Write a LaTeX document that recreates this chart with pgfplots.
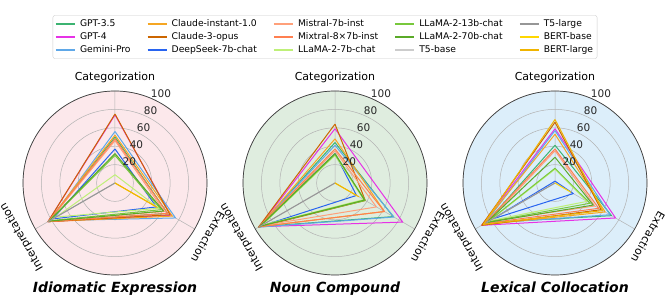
\documentclass[border=0pt]{standalone}
\usepackage{fontspec}
\setmainfont{DejaVu Sans}
\usepackage{pgfplots}
\pgfplotsset{compat=1.18}
\usepgfplotslibrary{polar}

\definecolor{cA}{RGB}{60,179,113}
\definecolor{cB}{RGB}{230,50,230}
\definecolor{cC}{RGB}{95,168,232}
\definecolor{cD}{RGB}{245,166,35}
\definecolor{cE}{RGB}{204,102,0}
\definecolor{cF}{RGB}{40,100,240}
\definecolor{cG}{RGB}{255,160,122}
\definecolor{cH}{RGB}{255,127,80}
\definecolor{cI}{RGB}{190,240,120}
\definecolor{cJ}{RGB}{120,200,60}
\definecolor{cK}{RGB}{90,170,40}
\definecolor{cL}{RGB}{204,204,204}
\definecolor{cM}{RGB}{150,150,150}
\definecolor{cN}{RGB}{255,215,0}
\definecolor{cO}{RGB}{240,180,0}
\definecolor{bgA}{RGB}{252,232,235}
\definecolor{bgB}{RGB}{223,237,223}
\definecolor{bgC}{RGB}{220,238,250}

\newcommand{\tri}[4]{\addplot[#1] coordinates {(90,#2) (330,#3) (210,#4) (90,#2)};}
\newcommand{\radarlabels}{%
  \node[font=\fontsize{11}{13}\selectfont, anchor=center] at (axis cs:90,115) {Categorization};
  \node[font=\fontsize{11}{13}\selectfont, anchor=center, rotate=-120] at (axis cs:330,117) {Extraction};
  \node[font=\fontsize{11}{13}\selectfont, anchor=center, rotate=120] at (axis cs:210,117) {Interpretation};
  \node[font=\fontsize{10.5}{12}\selectfont, text=black!85, anchor=south west, inner sep=0.5pt] at (axis cs:67.5,20) {20};
  \node[font=\fontsize{10.5}{12}\selectfont, text=black!85, anchor=south west, inner sep=0.5pt] at (axis cs:67.5,40) {40};
  \node[font=\fontsize{10.5}{12}\selectfont, text=black!85, anchor=south west, inner sep=0.5pt] at (axis cs:67.5,60) {60};
  \node[font=\fontsize{10.5}{12}\selectfont, text=black!85, anchor=south west, inner sep=0.5pt] at (axis cs:67.5,80) {80};
  \node[font=\fontsize{10.5}{12}\selectfont, text=black!85, anchor=south west, inner sep=0.5pt] at (axis cs:67.5,100) {100};
}

\pgfplotsset{radar/.style={
  scale only axis, width=184pt, height=184pt,
  xmin=0, xmax=360, ymin=0, ymax=100,
  xtick={90,210,330}, xticklabels={},
  ytick={20,40,60,80,100}, yticklabels={},
  grid=major, major grid style={draw=black!30, line width=0.5pt},
  separate axis lines,
  x axis line style={draw=black!75, line width=0.7pt},
  y axis line style={draw=none},
  major tick length=0pt, clip=false, anchor=origin,
  every axis plot/.append style={line width=1.0pt, line join=round}
}}

\begin{document}
\begin{tikzpicture}
\path[use as bounding box] (0pt,0pt) rectangle (665pt,297pt);

% ---------- Idiomatic Expression
\begin{polaraxis}[radar, at={(115pt,114pt)}, axis background/.style={fill=bgA}]
\tri{cA}{50}{66}{84}
\tri{cB}{74}{70}{84}
\tri{cC}{56}{76}{82}
\tri{cD}{52}{72}{84}
\tri{cE}{75}{69}{84}
\tri{cF}{37}{52}{78}
\tri{cG}{46}{62}{83}
\tri{cH}{48}{66}{84}
\tri{cI}{9}{55}{74}
\tri{cJ}{30}{58}{82}
\tri{cK}{32}{61}{83}
\tri{cL}{0}{0}{80}
\tri{cM}{0}{0}{84}
\tri{cN}{0}{50}{0}
\tri{cO}{0}{53}{0}
\radarlabels
\end{polaraxis}

% ---------- Noun Compound
\begin{polaraxis}[radar, at={(335pt,114pt)}, axis background/.style={fill=bgB}]
\tri{cA}{44}{73}{95}
\tri{cB}{59}{85}{95}
\tri{cC}{41}{74}{96}
\tri{cD}{48}{62}{95}
\tri{cE}{64}{38}{96}
\tri{cF}{32}{27}{95}
\tri{cG}{35}{52}{93}
\tri{cH}{37}{62}{95}
\tri{cI}{30}{36}{92}
\tri{cJ}{31}{38}{93}
\tri{cK}{32}{37}{94}
\tri{cL}{0}{0}{90}
\tri{cM}{0}{0}{94}
\tri{cN}{0}{27}{0}
\tri{cO}{0}{30}{0}
\radarlabels
\end{polaraxis}

% ---------- Lexical Collocation
\begin{polaraxis}[radar, at={(555pt,114pt)}, axis background/.style={fill=bgC}]
\tri{cA}{41}{71}{86}
\tri{cB}{59}{76}{92}
\tri{cC}{57}{69}{88}
\tri{cD}{53}{63}{91}
\tri{cE}{66}{58}{92}
\tri{cF}{2}{23}{78}
\tri{cG}{35}{50}{84}
\tri{cH}{37}{55}{88}
\tri{cI}{15}{40}{82}
\tri{cJ}{16}{44}{85}
\tri{cK}{28}{48}{86}
\tri{cL}{0}{0}{85}
\tri{cM}{0}{0}{88}
\tri{cN}{0}{20}{0}
\tri{cO}{69}{60}{90}
\radarlabels
\end{polaraxis}

% ---------- legend
\begin{axis}[at={(325pt,260pt)}, anchor=center, hide axis, scale only axis,
  width=10pt, height=10pt, xmin=0, xmax=1, ymin=0, ymax=1,
  legend columns=5, legend cell align=left,
  legend image code/.code={\draw[#1, line width=1.1pt] (0pt,0pt) -- (19pt,0pt);},
  legend style={at={(0.5,0.5)}, anchor=center, draw=black!20, rounded corners=2pt,
    font=\fontsize{9.2}{11}\selectfont, inner sep=2.5pt, row sep=1pt,
    nodes={inner sep=1.5pt, text height=7pt, text depth=2pt},
    /tikz/every even column/.append style={column sep=15pt},
    /tikz/every odd column/.append style={column sep=3pt}}]
\addlegendimage{cA}\addlegendentry{GPT-3.5}
\addlegendimage{cD}\addlegendentry{Claude-instant-1.0}
\addlegendimage{cG}\addlegendentry{Mistral-7b-inst}
\addlegendimage{cJ}\addlegendentry{LLaMA-2-13b-chat}
\addlegendimage{cM}\addlegendentry{T5-large}
\addlegendimage{cB}\addlegendentry{GPT-4}
\addlegendimage{cE}\addlegendentry{Claude-3-opus}
\addlegendimage{cH}\addlegendentry{Mixtral-8×7b-inst}
\addlegendimage{cK}\addlegendentry{LLaMA-2-70b-chat}
\addlegendimage{cN}\addlegendentry{BERT-base}
\addlegendimage{cC}\addlegendentry{Gemini-Pro}
\addlegendimage{cF}\addlegendentry{DeepSeek-7b-chat}
\addlegendimage{cI}\addlegendentry{LLaMA-2-7b-chat}
\addlegendimage{cL}\addlegendentry{T5-base}
\addlegendimage{cO}\addlegendentry{BERT-large}
\end{axis}

% ---------- titles
\node[font=\fontsize{14}{16}\selectfont\bfseries\itshape, anchor=base] at (115pt,4pt) {Idiomatic Expression};
\node[font=\fontsize{14}{16}\selectfont\bfseries\itshape, anchor=base] at (335pt,4pt) {Noun Compound};
\node[font=\fontsize{14}{16}\selectfont\bfseries\itshape, anchor=base] at (555pt,4pt) {Lexical Collocation};
\end{tikzpicture}
\end{document}
